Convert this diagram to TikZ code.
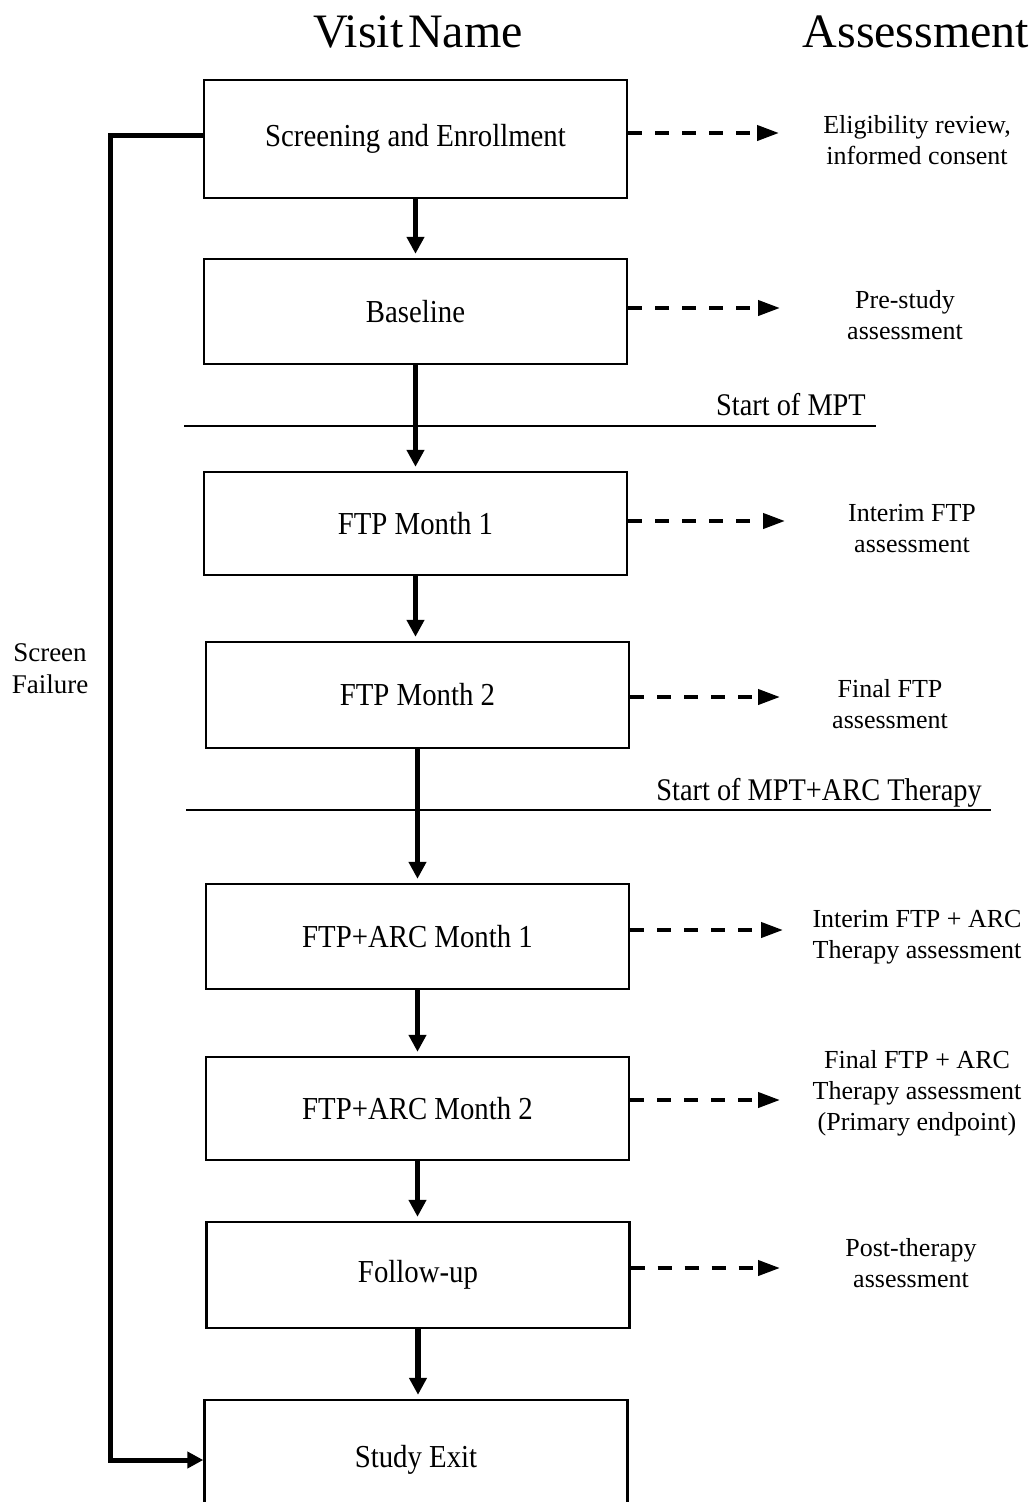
\documentclass[tikz,border=0pt]{standalone}
\usepackage{fontspec}
\setmainfont{Liberation Serif}
\newfontfamily\condfont[FakeStretch=0.9]{Liberation Serif}
\usetikzlibrary{arrows.meta}
\begin{document}
\begin{tikzpicture}[x=1pt,y=-1pt,
  visitbox/.style={draw, line width=2.4pt, minimum width=423pt, inner sep=0pt,
    font=\condfont\fontsize{32}{38}\selectfont},
  assess/.style={align=center, inner sep=0pt, font=\fontsize{26}{31}\selectfont},
  header/.style={inner sep=0pt, font=\fontsize{48}{54}\selectfont},
  phase/.style={inner sep=0pt, anchor=base east, font=\condfont\fontsize{31.5}{36}\selectfont},
  flowarrow/.style={line width=5.5pt, -{Triangle[length=17pt,width=17pt]}, shorten >=4pt},
  dasharrow/.style={line width=4pt, dash pattern=on 14pt off 13pt, -{Triangle[length=22pt,width=15pt]}},
  phaseline/.style={line width=2.4pt},
  failline/.style={line width=5pt, line join=miter, -{Triangle[length=16pt,width=16pt]}}
]
\useasboundingbox (0,0) rectangle (1032,1502);

% headers
\node[header] (hv) at (418,32) {Visit\kern0.1em Name};
\node[header] (ha) at (916,32) {Assessment};

% boxes
\node[visitbox, minimum height=118pt] (b1) at (415.5,139) {Screening and Enrollment};
\node[visitbox, minimum height=105pt] (b2) at (415.5,311.5) {Baseline};
\node[visitbox, minimum height=103pt] (b3) at (415.5,523.5) {FTP Month 1};
\node[visitbox, minimum height=106pt] (b4) at (417.5,695) {FTP Month 2};
\node[visitbox, minimum height=105pt] (b5) at (417.5,936.5) {FTP+ARC Month 1};
\node[visitbox, minimum height=103pt] (b6) at (417.5,1108.5) {FTP+ARC Month 2};
\node[visitbox, minimum height=106pt] (b7) at (418,1275) {Follow-up};
\node[visitbox, minimum height=120pt] (b8) at (416,1460) {Study Exit};

% phase lines
\coordinate (p1l) at (184,426);
\coordinate (p1r) at (876,426);
\draw[phaseline] (p1l) -- (p1r);
\node[phase] (p1) at (866,415) {Start of MPT};
\coordinate (p2l) at (186,810);
\coordinate (p2r) at (991,810);
\draw[phaseline] (p2l) -- (p2r);
\node[phase] (p2) at (982,800) {Start of MPT+ARC Therapy};

% flow arrows
\draw[flowarrow] (b1.south) -- (b1.south |- b2.north);
\draw[flowarrow] (b2.south) -- (b2.south |- b3.north);
\draw[flowarrow] (b3.south) -- (b3.south |- b4.north);
\draw[flowarrow] (b4.south) -- (b4.south |- b5.north);
\draw[flowarrow] (b5.south) -- (b5.south |- b6.north);
\draw[flowarrow] (b6.south) -- (b6.south |- b7.north);
\draw[flowarrow] (b7.south) -- (b7.south |- b8.north);

% assessments
\node[assess] (a1) at (917,140) {Eligibility review,\\informed consent};
\node[assess] (a2) at (905,315.5) {Pre-study\\assessment};
\node[assess] (a3) at (912,529) {Interim FTP\\assessment};
\node[assess] (a4) at (890,704.5) {Final FTP\\assessment};
\node[assess] (a5) at (917,937.5) {Interim FTP + ARC\\Therapy assessment};
\node[assess] (a6) at (917,1093) {Final FTP + ARC\\Therapy assessment\\(Primary endpoint)};
\node[assess] (a7) at (911,1263.5) {Post-therapy\\assessment};

% dashed arrows
\coordinate (t1) at (779,133);
\coordinate (t2) at (780,308);
\coordinate (t3) at (785,521);
\coordinate (t4) at (780,697);
\coordinate (t5) at (783,930);
\coordinate (t6) at (780,1100);
\coordinate (t7) at (780,1268);
\draw[dasharrow] (b1.east |- t1) -- (t1);
\draw[dasharrow] (b2.east |- t2) -- (t2);
\draw[dasharrow] (b3.east |- t3) -- (t3);
\draw[dasharrow] (b4.east |- t4) -- (t4);
\draw[dasharrow] (b5.east |- t5) -- (t5);
\draw[dasharrow] (b6.east |- t6) -- (t6);
\draw[dasharrow] (b7.east |- t7) -- (t7);

% screen failure
\coordinate (sf1) at (110,135);
\coordinate (sf2) at (110,1460);
\draw[failline] (b1.west |- sf1) -- (sf1) -- (sf2) -- (b8.west |- sf2);
\node[assess, font=\fontsize{27}{32}\selectfont] (sf) at (50,669) {Screen\\Failure};
\end{tikzpicture}
\end{document}
